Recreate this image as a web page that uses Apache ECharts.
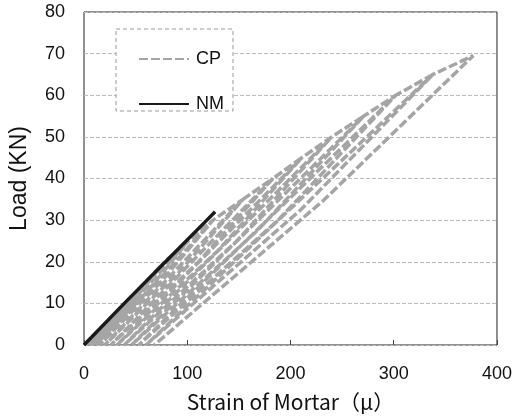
<!DOCTYPE html>
<html>
<head>
<meta charset="utf-8">
<script src="https://cdn.jsdelivr.net/npm/echarts@6/dist/echarts.min.js"></script>
<style>
  html, body { margin: 0; padding: 0; background: #fff; }
  #chart1 { width: 515px; height: 420px; }
</style>
</head>
<body>
<div id="chart1"></div>
<script>
// strain (μ) / load (kN): repeated unload-reload cycles for CP
var cpStrain = [0, 20, 40, 23, 2, 40, 59, 34, 4, 59, 78, 46, 7, 78, 101, 60, 11, 101, 125, 74, 15,
  125, 154, 92, 20, 154, 183, 111, 26, 183, 211, 129, 32, 211, 240, 148, 39, 240, 271, 168, 46,
  271, 302, 188, 53, 302, 338, 210, 60, 338, 377, 232, 68];
var cpLoad = [0, 5, 10, 5, 0, 10, 15, 7.5, 0, 15, 20, 10, 0, 20, 25, 12.5, 0, 25, 30, 15, 0,
  30, 35, 17.5, 0, 35, 40, 20, 0, 40, 45, 22.5, 0, 45, 50, 25, 0, 50, 55, 27.5, 0,
  55, 60, 30, 0, 60, 65, 32.5, 0, 65, 69.5, 34.75, 0];
var nmStrain = [0, 39, 79, 119, 127];
var nmLoad = [0, 10, 20, 30, 32];

var FONT = 'Liberation Sans, Arial, sans-serif';

function pairs(xs, ys) {
  var out = [];
  for (var i = 0; i < xs.length; i++) out.push([xs[i], ys[i]]);
  return out;
}

var myChart = echarts.init(document.getElementById('chart1'));
var option = {
  animation: false,
  backgroundColor: '#fff',
  grid: {
    left: 82, right: 18, top: 12, bottom: 75,
    show: true, borderColor: '#222', borderWidth: 1
  },
  graphic: [{
    type: 'rect',
    z: 3,
    shape: { x: 116, y: 29, width: 117, height: 82 },
    style: { fill: '#fff', stroke: '#999', lineWidth: 1, lineDash: [4, 3] }
  }],
  legend: {
    orient: 'vertical',
    left: 133, top: 45,
    z: 5,
    itemWidth: 50, itemHeight: 14, itemGap: 27,
    data: ['CP', 'NM'],
    itemStyle: { color: 'transparent', borderWidth: 0 },
    textStyle: { fontSize: 18, color: '#111', fontFamily: FONT, padding: [0, 0, 0, 2] }
  },
  xAxis: {
    type: 'value',
    min: 0, max: 400, interval: 100,
    name: 'Strain of Mortar（μ）',
    nameLocation: 'middle',
    nameGap: 47,
    nameTextStyle: { fontSize: 21, color: '#111', fontFamily: 'Noto Sans CJK JP' },
    axisLine: { show: false },
    axisTick: { show: true, inside: true, length: 5, lineStyle: { color: '#444' } },
    axisLabel: { fontSize: 18, color: '#111', fontFamily: FONT, margin: 20 },
    splitLine: { show: false }
  },
  yAxis: {
    type: 'value',
    min: 0, max: 80, interval: 10,
    name: 'Load (KN)',
    nameLocation: 'middle',
    nameGap: 53,
    nameTextStyle: { fontSize: 23, color: '#111', fontFamily: FONT },
    axisLine: { show: false },
    axisTick: { show: false },
    axisLabel: { fontSize: 18, color: '#111', fontFamily: FONT, margin: 19 },
    splitLine: { show: true, lineStyle: { type: 'dashed', color: '#bbb', width: 1 } }
  },
  series: [
    {
      name: 'CP',
      type: 'line',
      symbol: 'none',
      z: 2,
      data: pairs(cpStrain, cpLoad),
      lineStyle: { color: '#a5a5a5', width: 3.5, type: [9, 3] },
      itemStyle: { color: '#a5a5a5' }
    },
    {
      name: 'NM',
      type: 'line',
      symbol: 'none',
      z: 3,
      data: pairs(nmStrain, nmLoad),
      lineStyle: { color: '#1a1a1a', width: 3.5 },
      itemStyle: { color: '#1a1a1a' }
    }
  ]
};
myChart.setOption(option, true);
window.addEventListener('resize', function () {
  myChart.resize();
});
</script>
</body>
</html>
